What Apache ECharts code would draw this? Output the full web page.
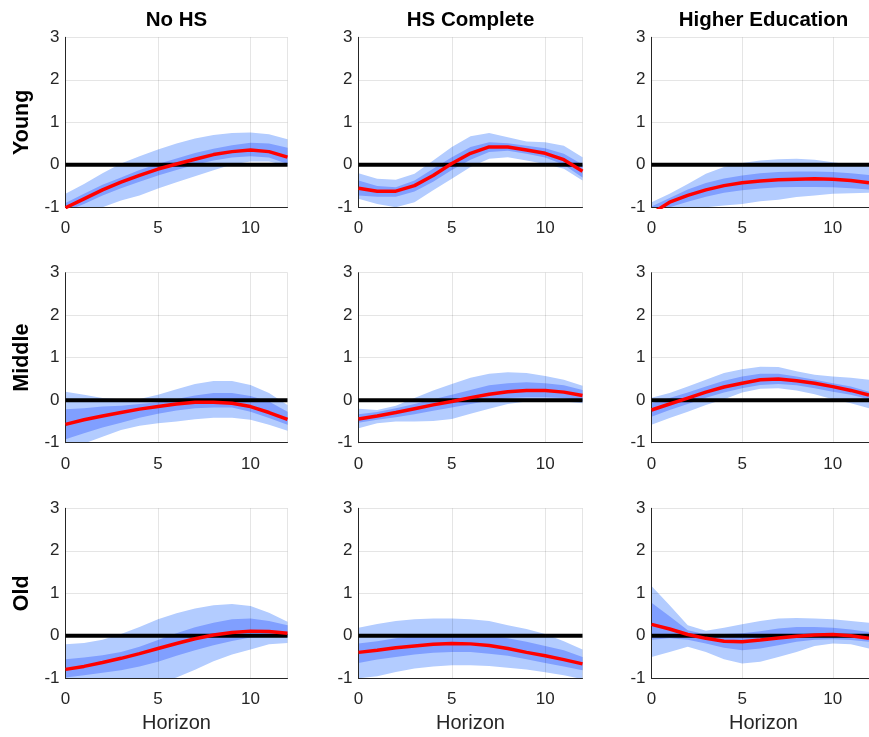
<!DOCTYPE html>
<html>
<head>
<meta charset="utf-8">
<script src="https://cdn.jsdelivr.net/npm/echarts@6/dist/echarts.min.js"></script>
<style>
  html, body { margin: 0; padding: 0; background: #fff; }
  #chart { width: 869px; height: 737px; }
</style>
</head>
<body>
<div id="chart"></div>
<script>
// Impulse responses by age group (rows) and education (columns),
// with inner and outer confidence bands.
const horizon = [0, 1, 2, 3, 4, 5, 6, 7, 8, 9, 10, 11, 12];
const colTitles = ['No HS', 'HS Complete', 'Higher Education'];
const rowTitles = ['Young', 'Middle', 'Old'];
const xTicks = [0, 5, 10];
const yTicks = [-1, 0, 1, 2, 3];

// Young / No HS
const youngNoHS_est   = [-1.01, -0.80, -0.59, -0.41, -0.25, -0.10, 0.02, 0.13, 0.24, 0.31, 0.35, 0.31, 0.18];
const youngNoHS_inLo  = [-1.10, -0.92, -0.72, -0.55, -0.40, -0.25, -0.12, 0.00, 0.10, 0.17, 0.20, 0.17, 0.02];
const youngNoHS_inHi  = [-0.90, -0.68, -0.47, -0.30, -0.12, 0.02, 0.15, 0.28, 0.38, 0.46, 0.52, 0.50, 0.40];
const youngNoHS_outLo = [-1.30, -1.15, -1.00, -0.84, -0.72, -0.56, -0.41, -0.27, -0.13, 0.01, 0.08, 0.08, -0.02];
const youngNoHS_outHi = [-0.68, -0.45, -0.20, 0.03, 0.20, 0.36, 0.50, 0.62, 0.70, 0.75, 0.76, 0.72, 0.60];

// Young / HS Complete
const youngHS_est   = [-0.55, -0.62, -0.62, -0.49, -0.25, 0.03, 0.27, 0.42, 0.42, 0.35, 0.27, 0.12, -0.15];
const youngHS_inLo  = [-0.72, -0.75, -0.75, -0.63, -0.40, -0.12, 0.12, 0.30, 0.33, 0.26, 0.17, 0.00, -0.30];
const youngHS_inHi  = [-0.37, -0.50, -0.53, -0.37, -0.09, 0.18, 0.42, 0.53, 0.51, 0.45, 0.39, 0.26, 0.01];
const youngHS_outLo = [-0.80, -0.92, -1.00, -0.88, -0.60, -0.33, -0.05, 0.14, 0.18, 0.10, 0.02, -0.09, -0.37];
const youngHS_outHi = [-0.20, -0.33, -0.35, -0.21, 0.10, 0.42, 0.67, 0.75, 0.65, 0.55, 0.53, 0.45, 0.18];

// Young / Higher Education
const youngHigh_est   = [-1.15, -0.88, -0.72, -0.59, -0.49, -0.42, -0.38, -0.35, -0.34, -0.33, -0.34, -0.37, -0.42];
const youngHigh_inLo  = [-1.25, -1.00, -0.87, -0.75, -0.66, -0.60, -0.56, -0.53, -0.52, -0.52, -0.53, -0.55, -0.58];
const youngHigh_inHi  = [-0.98, -0.78, -0.58, -0.43, -0.32, -0.25, -0.20, -0.17, -0.16, -0.16, -0.17, -0.20, -0.24];
const youngHigh_outLo = [-1.30, -1.15, -1.05, -1.00, -0.96, -0.92, -0.86, -0.82, -0.76, -0.72, -0.68, -0.67, -0.66];
const youngHigh_outHi = [-0.88, -0.68, -0.45, -0.21, -0.05, 0.04, 0.10, 0.13, 0.14, 0.12, 0.06, 0.01, -0.03];

// Middle / No HS
const middleNoHS_est   = [-0.57, -0.46, -0.37, -0.29, -0.21, -0.15, -0.09, -0.05, -0.05, -0.07, -0.15, -0.29, -0.45];
const middleNoHS_inLo  = [-0.92, -0.78, -0.64, -0.53, -0.41, -0.32, -0.24, -0.19, -0.17, -0.17, -0.27, -0.42, -0.58];
const middleNoHS_inHi  = [-0.21, -0.19, -0.15, -0.13, -0.09, -0.05, 0.03, 0.11, 0.17, 0.17, 0.10, -0.03, -0.27];
const middleNoHS_outLo = [-1.20, -1.02, -0.86, -0.70, -0.60, -0.54, -0.50, -0.45, -0.41, -0.41, -0.46, -0.58, -0.72];
const middleNoHS_outHi = [0.20, 0.13, 0.05, 0.02, 0.03, 0.13, 0.26, 0.38, 0.45, 0.45, 0.36, 0.17, -0.11];

// Middle / HS Complete
const middleHS_est   = [-0.44, -0.37, -0.29, -0.20, -0.11, -0.03, 0.06, 0.14, 0.20, 0.23, 0.23, 0.19, 0.11];
const middleHS_inLo  = [-0.53, -0.46, -0.40, -0.33, -0.25, -0.17, -0.09, -0.01, 0.05, 0.07, 0.07, 0.05, -0.02];
const middleHS_inHi  = [-0.33, -0.28, -0.19, -0.09, 0.02, 0.13, 0.24, 0.35, 0.40, 0.42, 0.40, 0.35, 0.24];
const middleHS_outLo = [-0.66, -0.54, -0.50, -0.50, -0.49, -0.44, -0.32, -0.20, -0.09, -0.03, -0.02, -0.03, -0.07];
const middleHS_outHi = [-0.20, -0.23, -0.13, 0.05, 0.23, 0.38, 0.53, 0.62, 0.66, 0.64, 0.57, 0.48, 0.34];

// Middle / Higher Education
const middleHigh_est   = [-0.23, -0.09, 0.05, 0.19, 0.31, 0.40, 0.48, 0.50, 0.46, 0.40, 0.32, 0.23, 0.12];
const middleHigh_inLo  = [-0.39, -0.23, -0.09, 0.06, 0.18, 0.28, 0.36, 0.38, 0.35, 0.28, 0.20, 0.13, 0.02];
const middleHigh_inHi  = [-0.07, 0.05, 0.18, 0.32, 0.46, 0.56, 0.62, 0.62, 0.56, 0.48, 0.40, 0.32, 0.20];
const middleHigh_outLo = [-0.58, -0.42, -0.27, -0.11, 0.02, 0.18, 0.27, 0.28, 0.23, 0.14, 0.02, -0.07, -0.19];
const middleHigh_outHi = [0.06, 0.17, 0.32, 0.48, 0.64, 0.73, 0.79, 0.78, 0.68, 0.60, 0.56, 0.53, 0.48];

// Old / No HS
const oldNoHS_est   = [-0.79, -0.72, -0.63, -0.53, -0.42, -0.30, -0.18, -0.07, 0.02, 0.08, 0.11, 0.10, 0.06];
const oldNoHS_inLo  = [-0.98, -0.93, -0.87, -0.81, -0.72, -0.61, -0.47, -0.34, -0.22, -0.12, -0.04, -0.02, -0.02];
const oldNoHS_inHi  = [-0.55, -0.51, -0.46, -0.38, -0.26, -0.10, 0.06, 0.20, 0.31, 0.39, 0.41, 0.35, 0.25];
const oldNoHS_outLo = [-1.30, -1.30, -1.30, -1.28, -1.22, -1.12, -0.98, -0.80, -0.60, -0.44, -0.32, -0.20, -0.17];
const oldNoHS_outHi = [-0.20, -0.17, -0.09, 0.04, 0.21, 0.39, 0.53, 0.64, 0.72, 0.75, 0.70, 0.54, 0.33];

// Old / HS Complete
const oldHS_est   = [-0.39, -0.34, -0.28, -0.24, -0.20, -0.18, -0.19, -0.23, -0.30, -0.39, -0.47, -0.56, -0.66];
const oldHS_inLo  = [-0.64, -0.56, -0.50, -0.44, -0.40, -0.38, -0.38, -0.42, -0.47, -0.55, -0.64, -0.72, -0.81];
const oldHS_inHi  = [-0.18, -0.13, -0.06, -0.01, 0.02, 0.03, 0.03, 0.00, -0.06, -0.14, -0.24, -0.34, -0.50];
const oldHS_outLo = [-1.00, -0.95, -0.85, -0.77, -0.72, -0.69, -0.69, -0.71, -0.75, -0.79, -0.86, -0.93, -1.02];
const oldHS_outHi = [0.19, 0.28, 0.35, 0.39, 0.41, 0.41, 0.39, 0.35, 0.25, 0.16, 0.04, -0.13, -0.32];

// Old / Higher Education
const oldHigh_est   = [0.27, 0.16, 0.03, -0.06, -0.13, -0.14, -0.10, -0.05, -0.01, 0.02, 0.03, 0.00, -0.06];
const oldHigh_inLo  = [-0.09, -0.06, -0.09, -0.18, -0.28, -0.34, -0.30, -0.22, -0.14, -0.09, -0.08, -0.10, -0.14];
const oldHigh_inHi  = [0.78, 0.46, 0.13, 0.03, 0.04, 0.06, 0.11, 0.17, 0.21, 0.21, 0.19, 0.15, 0.09];
const oldHigh_outLo = [-0.50, -0.38, -0.26, -0.38, -0.55, -0.65, -0.61, -0.50, -0.38, -0.24, -0.18, -0.20, -0.30];
const oldHigh_outHi = [1.17, 0.72, 0.25, 0.12, 0.19, 0.27, 0.35, 0.41, 0.42, 0.41, 0.39, 0.35, 0.31];

const panels = [
  [youngNoHS_est, youngNoHS_inLo, youngNoHS_inHi, youngNoHS_outLo, youngNoHS_outHi],
  [youngHS_est, youngHS_inLo, youngHS_inHi, youngHS_outLo, youngHS_outHi],
  [youngHigh_est, youngHigh_inLo, youngHigh_inHi, youngHigh_outLo, youngHigh_outHi],
  [middleNoHS_est, middleNoHS_inLo, middleNoHS_inHi, middleNoHS_outLo, middleNoHS_outHi],
  [middleHS_est, middleHS_inLo, middleHS_inHi, middleHS_outLo, middleHS_outHi],
  [middleHigh_est, middleHigh_inLo, middleHigh_inHi, middleHigh_outLo, middleHigh_outHi],
  [oldNoHS_est, oldNoHS_inLo, oldNoHS_inHi, oldNoHS_outLo, oldNoHS_outHi],
  [oldHS_est, oldHS_inLo, oldHS_inHi, oldHS_outLo, oldHS_outHi],
  [oldHigh_est, oldHigh_inLo, oldHigh_inHi, oldHigh_outLo, oldHigh_outHi]
];

// Layout of the 3x3 panel grid (pixels)
const colLeft = [65.5, 358.5, 651.5];
const colWidth = [222, 224, 224];
const rowTop = [37.3, 272.7, 508.3];
const panelHeight = 170;

const FONT = '"Liberation Sans", Arial, Helvetica, sans-serif';
const TEXT = '#262626';
const OUTER = '#b3ccff';
const INNER = '#809fff';

const grids = [], xAxes = [], yAxes = [], series = [];
const pair = (arr) => horizon.map((h, i) => [h, arr[i]]);

// Shaded band: one polygon per band, traced through the axis scales
function bandSeries(k, lo, hi, color, z) {
  return {
    type: 'custom', xAxisIndex: k, yAxisIndex: k, z: z, clip: true, silent: true, animation: false,
    data: horizon.map((h, i) => [h, lo[i], hi[i]]),
    encode: { x: 0, y: [1, 2] },
    renderItem: function (params, api) {
      if (params.dataIndex !== 0) return null;
      const n = horizon.length;
      const pts = [];
      for (let i = 0; i < n; i++) pts.push(api.coord([api.value(0, i), api.value(2, i)]));
      for (let i = n - 1; i >= 0; i--) pts.push(api.coord([api.value(0, i), api.value(1, i)]));
      return { type: 'polygon', shape: { points: pts }, style: { fill: color } };
    }
  };
}

panels.forEach((p, k) => {
  const r = Math.floor(k / 3), c = k % 3;
  const [est, inLo, inHi, outLo, outHi] = p;
  grids.push({ left: colLeft[c], top: rowTop[r], width: colWidth[c], height: panelHeight, containLabel: false });
  xAxes.push({
    gridIndex: k, type: 'value', min: 0, max: 12, interval: 5, z: 1.5,
    axisLine: { show: true, onZero: false, lineStyle: { color: TEXT, width: 1 } },
    axisTick: { show: false },
    axisLabel: { color: TEXT, fontSize: 17, fontFamily: FONT, margin: 13, customValues: xTicks },
    splitLine: { show: true, lineStyle: { color: 'rgba(0,0,0,0.1)', width: 1 } }
  });
  yAxes.push({
    gridIndex: k, type: 'value', min: -1, max: 3, interval: 1, z: 1.5,
    axisLine: { show: true, onZero: false, lineStyle: { color: TEXT, width: 1 } },
    axisTick: { show: false },
    axisLabel: { color: TEXT, fontSize: 17, fontFamily: FONT, margin: 6, customValues: yTicks },
    splitLine: { show: true, lineStyle: { color: 'rgba(0,0,0,0.1)', width: 1 } }
  });
  series.push(bandSeries(k, outLo, outHi, OUTER, 1));
  series.push(bandSeries(k, inLo, inHi, INNER, 1.1));
  const base = { xAxisIndex: k, yAxisIndex: k, type: 'line', symbol: 'none', silent: true, animation: false, clip: true };
  // zero reference line
  series.push(Object.assign({}, base, { z: 3, data: horizon.map(h => [h, 0]), lineStyle: { color: '#000', width: 4 } }));
  // point estimate
  series.push(Object.assign({}, base, { z: 4, data: pair(est), lineStyle: { color: '#ff0000', width: 3.5 } }));
});

const graphics = [];
colTitles.forEach((t, c) => {
  graphics.push({ type: 'text', x: colLeft[c] + colWidth[c] / 2, y: 20, z: 10,
    style: { text: t, fill: '#000', font: 'bold 20.5px ' + FONT, textAlign: 'center', textVerticalAlign: 'middle' } });
  graphics.push({ type: 'text', x: colLeft[c] + colWidth[c] / 2, y: 723, z: 10,
    style: { text: 'Horizon', fill: TEXT, font: '20px ' + FONT, textAlign: 'center', textVerticalAlign: 'middle' } });
});
rowTitles.forEach((t, r) => {
  graphics.push({ type: 'text', x: 22, y: rowTop[r] + panelHeight / 2, rotation: Math.PI / 2, z: 10,
    style: { text: t, fill: '#000', font: 'bold 21.5px ' + FONT, textAlign: 'center', textVerticalAlign: 'middle' } });
});

const chart = echarts.init(document.getElementById('chart'), null, { renderer: 'canvas' });
chart.setOption({
  backgroundColor: '#fff',
  animation: false,
  grid: grids,
  xAxis: xAxes,
  yAxis: yAxes,
  series: series,
  graphic: graphics
});
</script>
</body>
</html>
